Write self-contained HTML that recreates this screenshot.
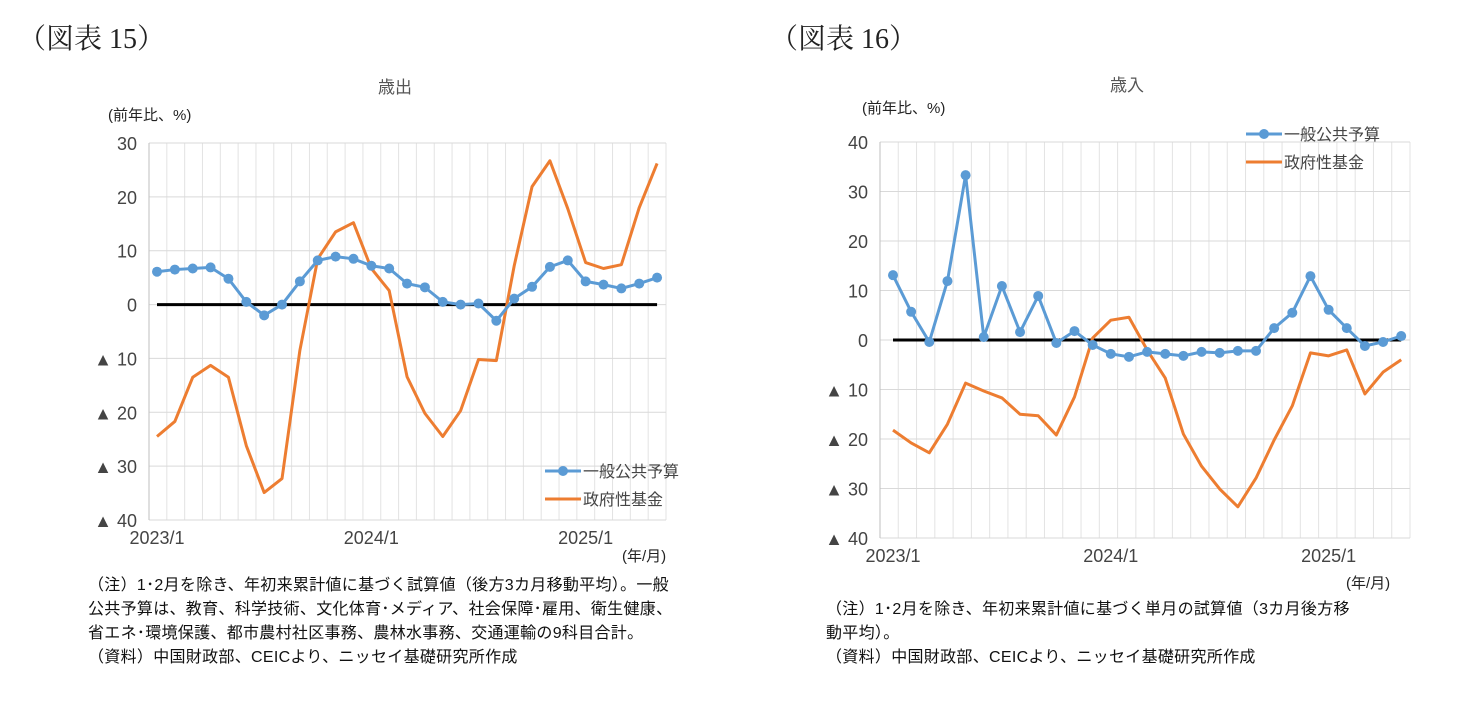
<!DOCTYPE html>
<html><head><meta charset="utf-8">
<style>
body{margin:0;background:#fff;width:1474px;height:707px;overflow:hidden;font-family:"Liberation Sans","Noto Sans CJK JP",sans-serif;}
svg{position:absolute;left:0;top:0}
</style></head>
<body>
<svg id="svg" width="1474" height="707">
<text x="18" y="48" font-family="Liberation Serif,'Noto Serif CJK SC',serif" font-size="28" fill="#222">（図表 15）</text>
<text x="770" y="48" font-family="Liberation Serif,'Noto Serif CJK SC',serif" font-size="28" fill="#222">（図表 16）</text>
<text x="395" y="93" font-size="17" fill="#555" text-anchor="middle">歳出</text>
<text x="1127" y="91" font-size="17" fill="#555" text-anchor="middle">歳入</text>
<text x="108" y="120" font-size="15" fill="#222">(前年比、%)</text>
<text x="862" y="113" font-size="15" fill="#222">(前年比、%)</text>
<text x="622" y="561" font-size="15" fill="#222">(年/月)</text>
<text x="1346" y="588" font-size="15" fill="#222">(年/月)</text>
<g font-size="16" fill="#111" letter-spacing="0.3">
<text x="88" y="590">（注）1･2月を除き、年初来累計値に基づく試算値（後方3カ月移動平均）。一般</text>
<text x="88" y="614">公共予算は、教育、科学技術、文化体育･メディア、社会保障･雇用、衛生健康、</text>
<text x="88" y="638">省エネ･環境保護、都市農村社区事務、農林水事務、交通運輸の9科目合計。</text>
<text x="88" y="662">（資料）中国財政部、CEICより、ニッセイ基礎研究所作成</text>
</g>
<g font-size="16" fill="#111" letter-spacing="0.3">
<text x="826" y="614">（注）1･2月を除き、年初来累計値に基づく単月の試算値（3カ月後方移</text>
<text x="826" y="638">動平均）。</text>
<text x="826" y="662">（資料）中国財政部、CEICより、ニッセイ基礎研究所作成</text>
</g>
</svg>
<script>
const c1Blue=[6.1,6.5,6.7,6.9,4.8,0.5,-2,0,4.3,8.2,8.9,8.5,7.2,6.7,3.9,3.2,0.5,0,0.2,-3,1.1,3.3,7,8.2,4.3,3.7,3,3.9,5];
const c1Orange=[-24.5,-21.7,-13.5,-11.3,-13.5,-26.2,-34.9,-32.3,-8.5,8.5,13.5,15.2,6.7,2.6,-13.4,-20.2,-24.5,-19.7,-10.2,-10.4,7.2,21.9,26.7,17.8,7.8,6.7,7.4,18,26.2];
const c1Ticks=[30,20,10,0,-10,-20,-30,-40];
const c2Blue=[13.1,5.7,-0.4,11.9,33.3,0.6,10.9,1.6,8.9,-0.6,1.8,-1,-2.8,-3.4,-2.4,-2.8,-3.2,-2.4,-2.6,-2.2,-2.2,2.4,5.5,12.9,6.1,2.4,-1.2,-0.4,0.8];
const c2Orange=[-18.2,-20.8,-22.8,-17,-8.7,-10.3,-11.7,-15,-15.3,-19.2,-11.5,0.4,4,4.6,-2,-7.7,-19,-25.5,-30.1,-33.7,-27.9,-20.2,-13.3,-2.6,-3.2,-2,-10.9,-6.5,-4];
const c2Ticks=[40,30,20,10,0,-10,-20,-30,-40];
const xLabels=["2023/1","2024/1","2025/1"];
const NS="http://www.w3.org/2000/svg";
const svg=document.getElementById('svg');
function el(t,a,p){const e=document.createElementNS(NS,t);for(const k in a)e.setAttribute(k,a[k]);(p||svg).appendChild(e);return e;}
function tickText(v){return v<0?"▲ "+(-v):String(v);}
function chart(o){
  const g=el('g',{});
  
  
  const y=v=>o.y0+(o.ymax-v)*(o.y1-o.y0)/(o.ymax-o.ymin);
  const x=i=>o.xs+i*o.dx;
  for(let i=0;i<=o.n;i++){const xx=o.left+ (i)*(o.right-o.left)/o.n;
    el('line',{x1:xx,x2:xx,y1:o.y0,y2:o.y1,stroke:'#e3e3e3','stroke-width':1},g);}
  o.ticks.forEach(t=>{
    const l=el('line',{x1:o.left,x2:o.right,y1:y(t),y2:y(t),stroke:'#d9d9d9'},g);
    
    
    const tx=el('text',{x:o.left-12,y:y(t)+7,'font-size':18,fill:'#444','text-anchor':'end'},g);
    tx.textContent=tickText(t);
    
    
  });
  el('line',{x1:o.left,x2:o.left,y1:o.y0,y2:o.y1,stroke:'#bfbfbf'},g);
  xLabels.forEach((s,k)=>{
    const tx=el('text',{x:x(k*12),y:o.y1+24,'font-size':18,fill:'#444','text-anchor':'middle'},g);
    tx.textContent=s;
    
    
  });
  const zl=el('line',{x1:x(0),x2:x(o.blue.length-1),y1:y(0),y2:y(0),stroke:'#000','stroke-width':3},g);
  
  
  const po=el('polyline',{points:o.orange.map((v,i)=>x(i)+','+y(v)).join(' '),fill:'none',stroke:'#ed7d31','stroke-width':3,'stroke-linejoin':'round'},g);
  
  
  const pb=el('polyline',{points:o.blue.map((v,i)=>x(i)+','+y(v)).join(' '),fill:'none',stroke:'#5b9bd5','stroke-width':3},g);
  
  
  o.blue.forEach((v,i)=>{
    const c=el('circle',{cx:x(i),cy:y(v),r:5,fill:'#5b9bd5'},g);
    
    
  });
  const L=o.legend;
  const lg=el('g',{},g);
  
  
  el('line',{x1:L.x,x2:L.x+36,y1:L.y,y2:L.y,stroke:'#5b9bd5','stroke-width':3},lg);
  el('circle',{cx:L.x+18,cy:L.y,r:5,fill:'#5b9bd5'},lg);
  const t1=el('text',{x:L.x+38,y:L.y+6,'font-size':16,fill:'#444'},lg);t1.textContent='一般公共予算';
  el('line',{x1:L.x,x2:L.x+36,y1:L.y+28,y2:L.y+28,stroke:'#ed7d31','stroke-width':3},lg);
  const t2=el('text',{x:L.x+38,y:L.y+34,'font-size':16,fill:'#444'},lg);t2.textContent='政府性基金';
}
chart({name:'chart-expenditure',blue:c1Blue,orange:c1Orange,ticks:c1Ticks,ymax:30,ymin:-40,y0:143,y1:520,left:149,right:666,n:29,xs:157,dx:17.86,legend:{x:545,y:471}});
chart({name:'chart-revenue',blue:c2Blue,orange:c2Orange,ticks:c2Ticks,ymax:40,ymin:-40,y0:142,y1:538,left:880,right:1410,n:29,xs:893,dx:18.15,legend:{x:1246,y:134}});
</script>
</body></html>
